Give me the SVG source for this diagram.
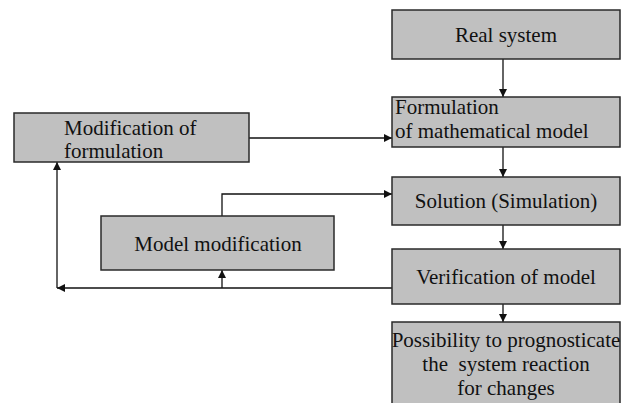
<svg xmlns="http://www.w3.org/2000/svg" width="626" height="403" viewBox="0 0 626 403">
<style>
.box{fill:#c0c0c0;stroke:#2a2a2a;stroke-width:1.5}
.t{font-family:'Liberation Serif','Times New Roman',serif;font-size:21px;fill:#111}
.c{text-anchor:middle}
.ln{fill:none;stroke:#111;stroke-width:1.3}
</style>
<defs>
<marker id="a" viewBox="0 0 10 10" refX="10" refY="5" markerWidth="8" markerHeight="8" markerUnits="userSpaceOnUse" orient="auto">
<path d="M0,0L10,5L0,10z" fill="#111"/>
</marker>
</defs>
<rect width="626" height="403" fill="#fff"/>
<g id="connectors">
<path class="ln" d="M503,59V97" marker-end="url(#a)"/>
<path class="ln" d="M503,147V177" marker-end="url(#a)"/>
<path class="ln" d="M503,225V249" marker-end="url(#a)"/>
<path class="ln" d="M503,304V322" marker-end="url(#a)"/>
<path class="ln" d="M249,138H392" marker-end="url(#a)"/>
<path class="ln" d="M222,216V194H392" marker-end="url(#a)"/>
<path class="ln" d="M392,288H57" marker-end="url(#a)"/>
<path class="ln" d="M222,288V270" marker-end="url(#a)"/>
<path class="ln" d="M57,288V162" marker-end="url(#a)"/>
</g>
<g id="real-system">
<rect class="box" x="392" y="10" width="228" height="49"/>
<text class="t c" x="506" y="42">Real system</text>
</g>
<g id="formulation">
<rect class="box" x="392" y="97" width="228" height="50"/>
<text class="t" x="395" y="114">Formulation</text>
<text class="t" x="395" y="138">of mathematical model</text>
</g>
<g id="modification-of-formulation">
<rect class="box" x="14" y="113" width="235" height="49"/>
<text class="t" x="64" y="135">Modification of</text>
<text class="t" x="64" y="158">formulation</text>
</g>
<g id="solution">
<rect class="box" x="392" y="177" width="228" height="48"/>
<text class="t c" x="506" y="208">Solution (Simulation)</text>
</g>
<g id="model-modification">
<rect class="box" x="101" y="216" width="233" height="54"/>
<text class="t c" x="218" y="251">Model modification</text>
</g>
<g id="verification">
<rect class="box" x="392" y="249" width="228" height="55"/>
<text class="t c" x="506" y="284">Verification of model</text>
</g>
<g id="possibility">
<rect class="box" x="392" y="322" width="228" height="90"/>
<text class="t c" x="506" y="347">Possibility to prognosticate</text>
<text class="t c" x="506" y="371" xml:space="preserve">the  system reaction</text>
<text class="t c" x="506" y="395">for changes</text>
</g>
</svg>
